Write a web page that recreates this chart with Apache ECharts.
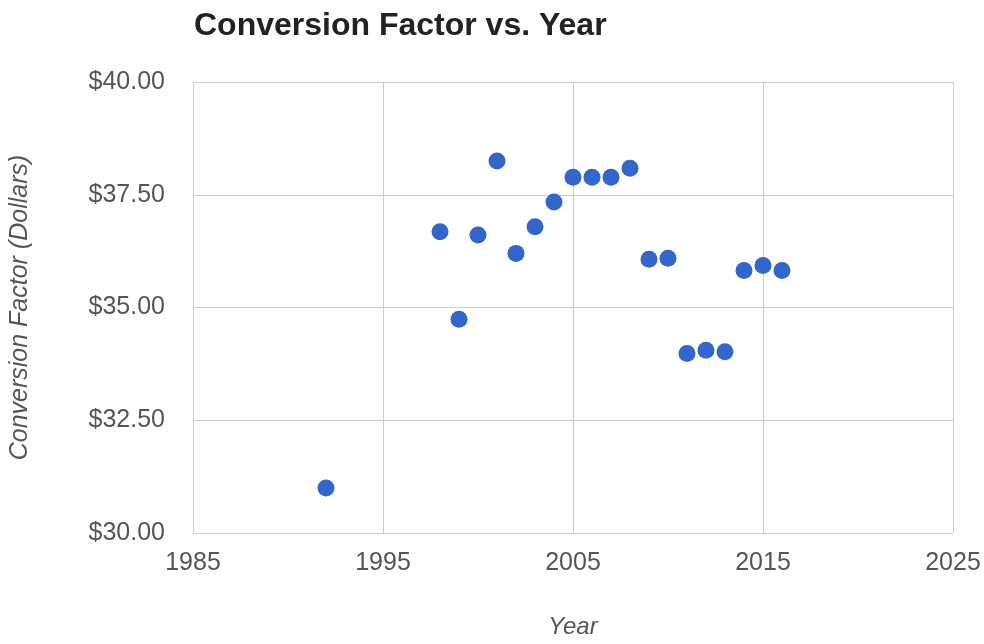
<!DOCTYPE html>
<html>
<head>
<meta charset="utf-8">
<script src="https://cdn.jsdelivr.net/npm/echarts@6/dist/echarts.min.js"></script>
<style>
  html, body { margin: 0; padding: 0; background: #fff; }
  #chart { width: 984px; height: 644px; }
</style>
</head>
<body>
<div id="chart"></div>
<script>
// Conversion factor by year (dollars)
const years = [1992, 1998, 1999, 2000, 2001, 2002, 2003, 2004, 2005, 2006,
               2007, 2008, 2009, 2010, 2011, 2012, 2013, 2014, 2015, 2016];
const factors = [31.00, 36.68, 34.74, 36.61, 38.25, 36.20, 36.79, 37.34, 37.89, 37.89,
                 37.89, 38.09, 36.07, 36.09, 33.98, 34.05, 34.02, 35.82, 35.93, 35.82];

const titleText = 'Conversion Factor vs. Year';
const xName = 'Year';
const yName = 'Conversion Factor (Dollars)';
const xRange = [1985, 2025];
const yRange = [30, 40];

const points = years.map((y, i) => [y, factors[i]]);

const chart = echarts.init(document.getElementById('chart'));
const gridLine = { show: true, lineStyle: { color: '#cccccc', width: 1 } };
const font = 'Arial, Liberation Sans';
chart.setOption({
  animation: false,
  title: {
    text: titleText,
    left: 189,
    top: 5,
    textStyle: { fontFamily: font, fontSize: 32, fontWeight: 'bold', color: '#222' }
  },
  grid: { left: 193, right: 31, top: 82, bottom: 101 },
  xAxis: {
    type: 'value',
    min: xRange[0], max: xRange[1], interval: 10,
    name: xName,
    nameLocation: 'middle',
    nameGap: 82,
    nameTextStyle: { fontFamily: font, fontSize: 24, fontStyle: 'italic', color: '#555' },
    axisLine: { show: false },
    axisTick: { show: false },
    splitLine: gridLine,
    axisLabel: {
      margin: 18,
      fontFamily: font, fontSize: 25, color: '#555',
      formatter: v => String(v)
    }
  },
  yAxis: {
    type: 'value',
    min: yRange[0], max: yRange[1], interval: 2.5,
    name: yName,
    nameLocation: 'middle',
    nameGap: 160,
    nameTextStyle: { fontFamily: font, fontSize: 25, fontStyle: 'italic', color: '#555' },
    axisLine: { show: false },
    axisTick: { show: false },
    splitLine: gridLine,
    axisLabel: {
      margin: 28,
      fontFamily: font, fontSize: 25, color: '#555',
      formatter: v => '$' + v.toFixed(2)
    }
  },
  series: [{
    type: 'scatter',
    data: points,
    symbol: 'circle',
    symbolSize: 17,
    itemStyle: { color: '#3366cc', opacity: 1 }
  }]
});
</script>
</body>
</html>
